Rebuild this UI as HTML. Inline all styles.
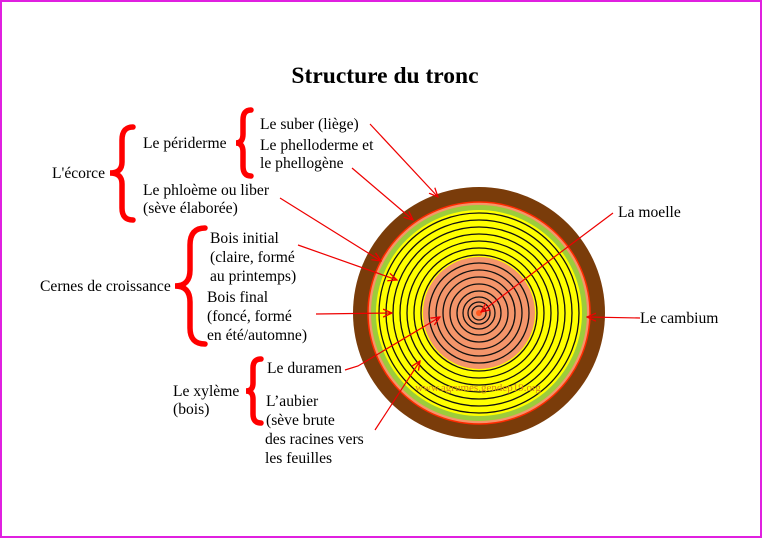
<!DOCTYPE html>
<html><head><meta charset="utf-8"><style>
html,body{margin:0;padding:0;background:#fff}
svg{display:block}
text{font-family:"Liberation Serif",serif;font-size:15.6px;fill:#000}
</style></head><body>
<svg width="762" height="538" viewBox="0 0 762 538" xmlns="http://www.w3.org/2000/svg">
<defs>
<marker id="a" markerWidth="10" markerHeight="10" refX="9" refY="5" orient="auto" markerUnits="userSpaceOnUse">
<path d="M0,1 L9,5 L0,9" fill="none" stroke="#e00" stroke-width="1.3"/>
</marker>
</defs>
<rect x="1" y="1" width="760" height="536" fill="#fff" stroke="#e020e0" stroke-width="2"/>
<text x="385" y="83" text-anchor="middle" style="font-size:23.5px;font-weight:bold">Structure du tronc</text>

<circle cx="479" cy="313" r="126" fill="#7a3c0a"/>
<circle cx="479" cy="313" r="111" fill="#f4956a" stroke="#ff2a00" stroke-width="1.5"/>
<circle cx="479" cy="313" r="108" fill="#9ccc3c"/>
<circle cx="479" cy="313" r="103" fill="#ffff00"/>
<circle cx="479" cy="313" r="56" fill="#f4956a"/>
<g fill="none" stroke="#111" stroke-width="1.3">
<circle cx="479" cy="313" r="100"/><circle cx="479" cy="313" r="93"/><circle cx="479" cy="313" r="86"/>
<circle cx="479" cy="313" r="79"/><circle cx="479" cy="313" r="72"/><circle cx="479" cy="313" r="65"/>
<circle cx="479" cy="313" r="58"/><circle cx="479" cy="313" r="50"/><circle cx="479" cy="313" r="43"/>
<circle cx="479" cy="313" r="36"/><circle cx="479" cy="313" r="29"/><circle cx="479" cy="313" r="22"/>
<circle cx="479" cy="313" r="16"/><circle cx="479" cy="313" r="11"/><circle cx="479" cy="313" r="7"/>
</g>
<circle cx="479" cy="313" r="3" fill="#ff5a20"/>
<text x="478" y="391" text-anchor="middle" style="font-size:11px;fill:#d8861a">www.agrumes.gendep19.org</text>

<g stroke="#e00" stroke-width="1.2" fill="none" marker-end="url(#a)">
<line x1="370" y1="124" x2="438" y2="197"/>
<line x1="352" y1="168" x2="413" y2="220"/>
<line x1="280" y1="198" x2="381" y2="261"/>
<line x1="298" y1="245" x2="397" y2="280"/>
<line x1="316" y1="314" x2="392" y2="313"/>
<polyline points="345,370 358,366 440,317"/>
<line x1="375" y1="430" x2="420" y2="361"/>
<line x1="613" y1="213" x2="481" y2="312"/>
<line x1="640" y1="318" x2="587" y2="317"/>
</g>

<g stroke="#f00" stroke-width="5.5" fill="none" stroke-linecap="round">
<path d="M133,127 Q122,127 122,140 L122,162 Q122,173 110,173 Q122,173 122,184 L122,208 Q122,220 133,220"/>
<path d="M251,110 Q243,110 243,120 L243,134 Q243,143 236,143 Q243,143 243,152 L243,166 Q243,176 251,176"/>
<path d="M205,228 Q190,228 190,245 L190,270 Q190,286 175,286 Q190,286 190,302 L190,328 Q190,344 205,344"/>
<path d="M261,359 Q253,359 253,368 L253,383 Q253,391 246,391 Q253,391 253,399 L253,414 Q253,423 261,423"/>
</g>

<text x="52" y="178">L'écorce</text>
<text x="143" y="148">Le périderme</text>
<text x="260" y="129">Le suber (liège)</text>
<text x="260" y="150">Le phelloderme et</text>
<text x="260" y="168">le phellogène</text>
<text x="143" y="195">Le phloème ou liber</text>
<text x="143" y="213">(sève élaborée)</text>
<text x="210" y="243">Bois initial</text>
<text x="210" y="262">(claire, formé</text>
<text x="210" y="281">au printemps)</text>
<text x="40" y="291">Cernes de croissance</text>
<text x="207" y="302">Bois final</text>
<text x="207" y="321">(foncé, formé</text>
<text x="207" y="340">en été/automne)</text>
<text x="267" y="373">Le duramen</text>
<text x="173" y="396">Le xylème</text>
<text x="173" y="414">(bois)</text>
<text x="266" y="406">L’aubier</text>
<text x="266" y="425">(sève brute</text>
<text x="265" y="444">des racines vers</text>
<text x="265" y="463">les feuilles</text>
<text x="618" y="217">La moelle</text>
<text x="640" y="323">Le cambium</text>
</svg>
</body></html>
